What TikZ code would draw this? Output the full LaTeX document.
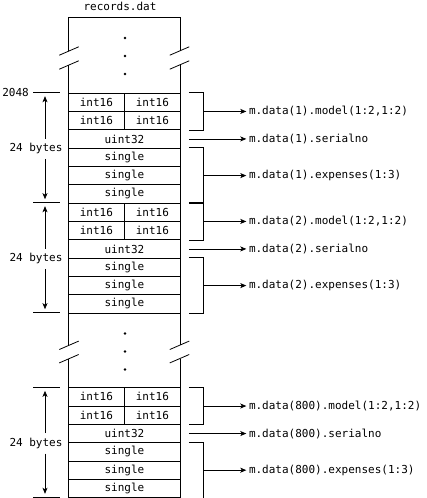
\documentclass[tikz,border=0pt]{standalone}
\usepackage{fontspec}
\setmonofont{DejaVu Sans Mono}
\usetikzlibrary{arrows.meta,calc}
\begin{document}
\begin{tikzpicture}[x=1pt,y=-1pt,
  every node/.style={font=\ttfamily\fontsize{11}{13}\selectfont},
  line/.style={line width=0.8pt},
  cellhalf/.style={draw, line width=0.8pt, minimum width=56pt, minimum height=18.33pt, inner sep=0pt, anchor=north west},
  cellfull/.style={cellhalf, minimum width=112pt},
  arr/.style={line width=0.8pt, -{Stealth[length=6pt,width=5pt,inset=1.5pt]}},
  lab/.style={anchor=west, inner sep=0pt},
  dimtext/.style={inner sep=0pt, minimum height=20pt},
]
\useasboundingbox (0,0) rectangle (426,498);

% title
\node (title) at (120,6.5) {records.dat};

% outer column
\draw[line] (68,51) -- (68,17.3) -- (180,17.3) -- (180,51);
\draw[line] (68,65) -- (68,92.7);
\draw[line] (180,65) -- (180,92.7);
\draw[line] (68,312.7) -- (68,345.3);
\draw[line] (68,358.7) -- (68,387.3);
\draw[line] (180,312.7) -- (180,345.3);
\draw[line] (180,358.7) -- (180,387.3);
\foreach \yc in {51,65,345.3,358.7}
  \foreach \xc in {69,179.5}
    \draw[line] ({\xc-9.7},{\yc+4.2}) -- ({\xc+9.7},{\yc-4.2});
\foreach \yy in {38,56,74,333.5,351.5,369.5}
  \fill (125,\yy) circle (1.4);

% 2048 label
\node[anchor=east, inner sep=0pt] (n2048) at (29,92.7) {2048};

\foreach \b/\top/\n in {1/92.7/1, 2/202.7/2, 3/387.3/800}{
  \node[cellhalf] (i\b-a) at (68,\top) {int16};
  \node[cellhalf] (i\b-b) at (124,\top) {int16};
  \node[cellhalf] (i\b-c) at (68,{\top+18.33}) {int16};
  \node[cellhalf] (i\b-d) at (124,{\top+18.33}) {int16};
  \node[cellfull] (u\b) at (68,{\top+36.67}) {uint32};
  \node[cellfull] (s\b-a) at (68,{\top+55}) {single};
  \node[cellfull] (s\b-b) at (68,{\top+73.33}) {single};
  \node[cellfull] (s\b-c) at (68,{\top+91.67}) {single};
  % model bracket
  \draw[line] ([xshift=8pt]i\b-b.north east) -- ++(15,0) |- ([xshift=8pt]i\b-d.south east);
  \coordinate (m\b) at ($([xshift=23pt]i\b-b.north east)!0.5!([xshift=23pt]i\b-d.south east)$);
  \node[lab] (lm\b) at ($(m\b)+(45,0)$) {m.data(\n).model(1:2,1:2)};
  \draw[arr] (m\b) -- ([xshift=-2.5pt]lm\b.west);
  % serialno
  \node[lab] (ls\b) at ([xshift=68pt]u\b.east) {m.data(\n).serialno};
  \draw[arr] ([xshift=8pt]u\b.east) -- ([xshift=-2.5pt]ls\b.west);
  % expenses bracket
  \draw[line] ([xshift=8pt]s\b-a.north east) -- ++(15,0) |- ([xshift=8pt]s\b-c.south east);
  \coordinate (e\b) at ([xshift=23pt]s\b-b.east);
  \node[lab] (le\b) at ([xshift=68pt]s\b-b.east) {m.data(\n).expenses(1:3)};
  \draw[arr] (e\b) -- ([xshift=-2.5pt]le\b.west);
  % left dimension
  \draw[line] (33,\top) -- (60,\top);
  \draw[line] (33,{\top+110}) -- (60,{\top+110});
  \node[dimtext] (d\b) at (36,{\top+56}) {24 bytes};
  \coordinate (dt\b) at (45,\top);
  \coordinate (db\b) at (45,{\top+110});
  \draw[arr, shorten >=3.5pt] (dt\b |- d\b.north) -- (dt\b);
  \draw[arr, shorten >=3.5pt] (db\b |- d\b.south) -- (db\b);
}
\end{tikzpicture}
\end{document}
